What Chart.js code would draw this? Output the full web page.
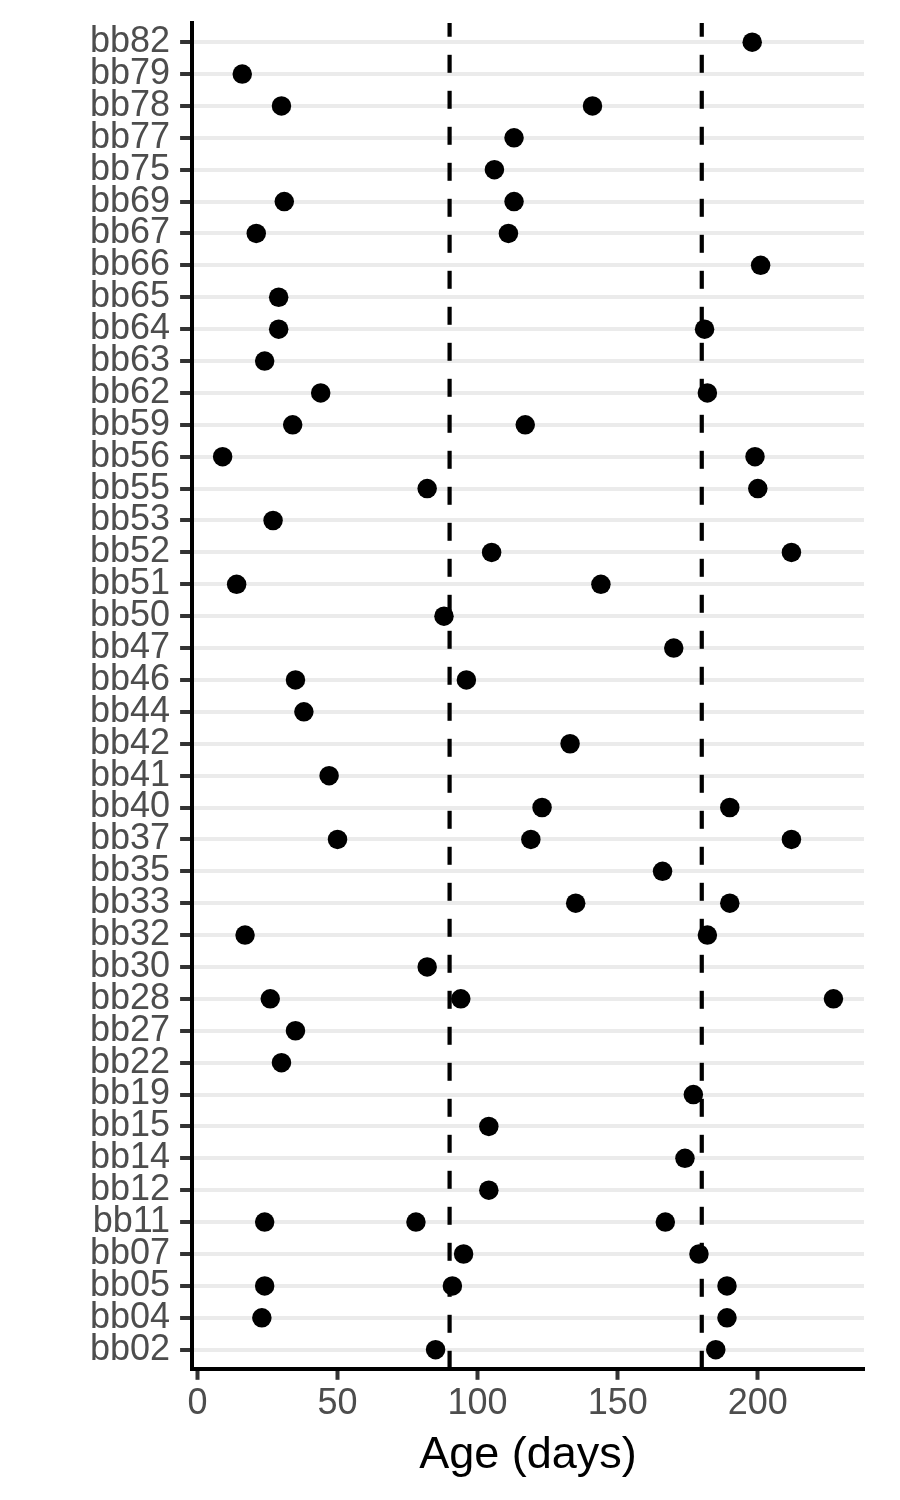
<!DOCTYPE html>
<html><head><meta charset="utf-8">
<script src="https://cdn.jsdelivr.net/npm/chart.js@4/dist/chart.umd.min.js"></script>
<style>html,body{margin:0;padding:0;background:#fff}canvas{display:block}</style>
</head><body>
<canvas id="c" width="900" height="1500"></canvas>
<script>
const categories = ['bb82','bb79','bb78','bb77','bb75','bb69','bb67','bb66','bb65','bb64','bb63','bb62','bb59','bb56','bb55','bb53','bb52','bb51','bb50','bb47','bb46','bb44','bb42','bb41','bb40','bb37','bb35','bb33','bb32','bb30','bb28','bb27','bb22','bb19','bb15','bb14','bb12','bb11','bb07','bb05','bb04','bb02'];
const age1 = [198,16,30,113,106,31,21,201,29,29,24,44,34,9,82,27,105,14,88,170,35,38,133,47,123,50,166,135,17,82,26,35,30,177,104,174,104,24,95,24,23,85];
const age2 = [null,null,141,null,null,113,111,null,null,181,null,182,117,199,200,null,212,144,null,null,96,null,null,null,190,119,null,190,182,null,94,null,null,null,null,null,null,78,179,91,189,185];
const age3 = [null,null,null,null,null,null,null,null,null,null,null,null,null,null,null,null,null,null,null,null,null,null,null,null,null,212,null,null,null,null,227,null,null,null,null,null,null,167,null,189,null,null];
const xTicks = [0,50,100,150,200];
const refLines = [90,180];
const xTitle = 'Age (days)';

const FONT = '"Liberation Sans", Arial, Helvetica, sans-serif';
const yMin = -0.6, yMax = categories.length - 1 + 0.6;

const points = [];
categories.forEach((c, i) => {
  [age1, age2, age3].forEach(arr => {
    if (arr[i] !== null && arr[i] !== undefined) points.push({x: arr[i], y: i});
  });
});

const datasets = [{
  label: 'age',
  data: points,
  backgroundColor: '#000000',
  borderWidth: 0,
  pointRadius: 9.75,
  pointHoverRadius: 9.75,
  order: 0
}];
refLines.forEach(r => {
  datasets.push({
    label: 'ref' + r,
    data: [{x: r, y: yMax}, {x: r, y: yMin}],
    showLine: true,
    borderColor: '#000000',
    borderWidth: 4.2,
    borderDash: [18, 18],
    pointRadius: 0,
    fill: false,
    order: 1
  });
});

new Chart(document.getElementById('c'), {
  type: 'scatter',
  data: { datasets },
  options: {
    responsive: false,
    devicePixelRatio: 1,
    animation: false,
    layout: { padding: { left: 80, right: 36, top: 23, bottom: 17 } },
    plugins: { legend: { display: false }, tooltip: { enabled: false } },
    scales: {
      x: {
        type: 'linear',
        min: -1.9,
        max: 237.9,
        afterBuildTicks: s => { s.ticks = xTicks.map(v => ({value: v})); },
        ticks: { autoSkip: false, maxRotation: 0, padding: 3, color: '#4d4d4d', font: { family: FONT, size: 36 } },
        grid: { drawOnChartArea: false, drawTicks: true, tickColor: '#333333', tickWidth: 4, tickLength: 11 },
        border: { display: true, color: '#000000', width: 4 },
        title: { display: true, text: xTitle, color: '#000000', font: { family: FONT, size: 45 }, padding: { top: 0, bottom: 0 } }
      },
      y: {
        type: 'linear',
        reverse: true,
        min: yMin,
        max: yMax,
        afterBuildTicks: s => { s.ticks = categories.map((c, i) => ({value: i})); },
        afterFit: s => { s.paddingTop = 0; s.paddingBottom = 0; },
        ticks: { autoSkip: false, padding: 10, color: '#4d4d4d', font: { family: FONT, size: 36 }, callback: v => categories[v] },
        grid: { color: '#ebebeb', lineWidth: 4, tickColor: '#333333', tickWidth: 4, tickLength: 12 },
        border: { display: true, color: '#000000', width: 4 }
      }
    }
  }
});
</script>
</body></html>
